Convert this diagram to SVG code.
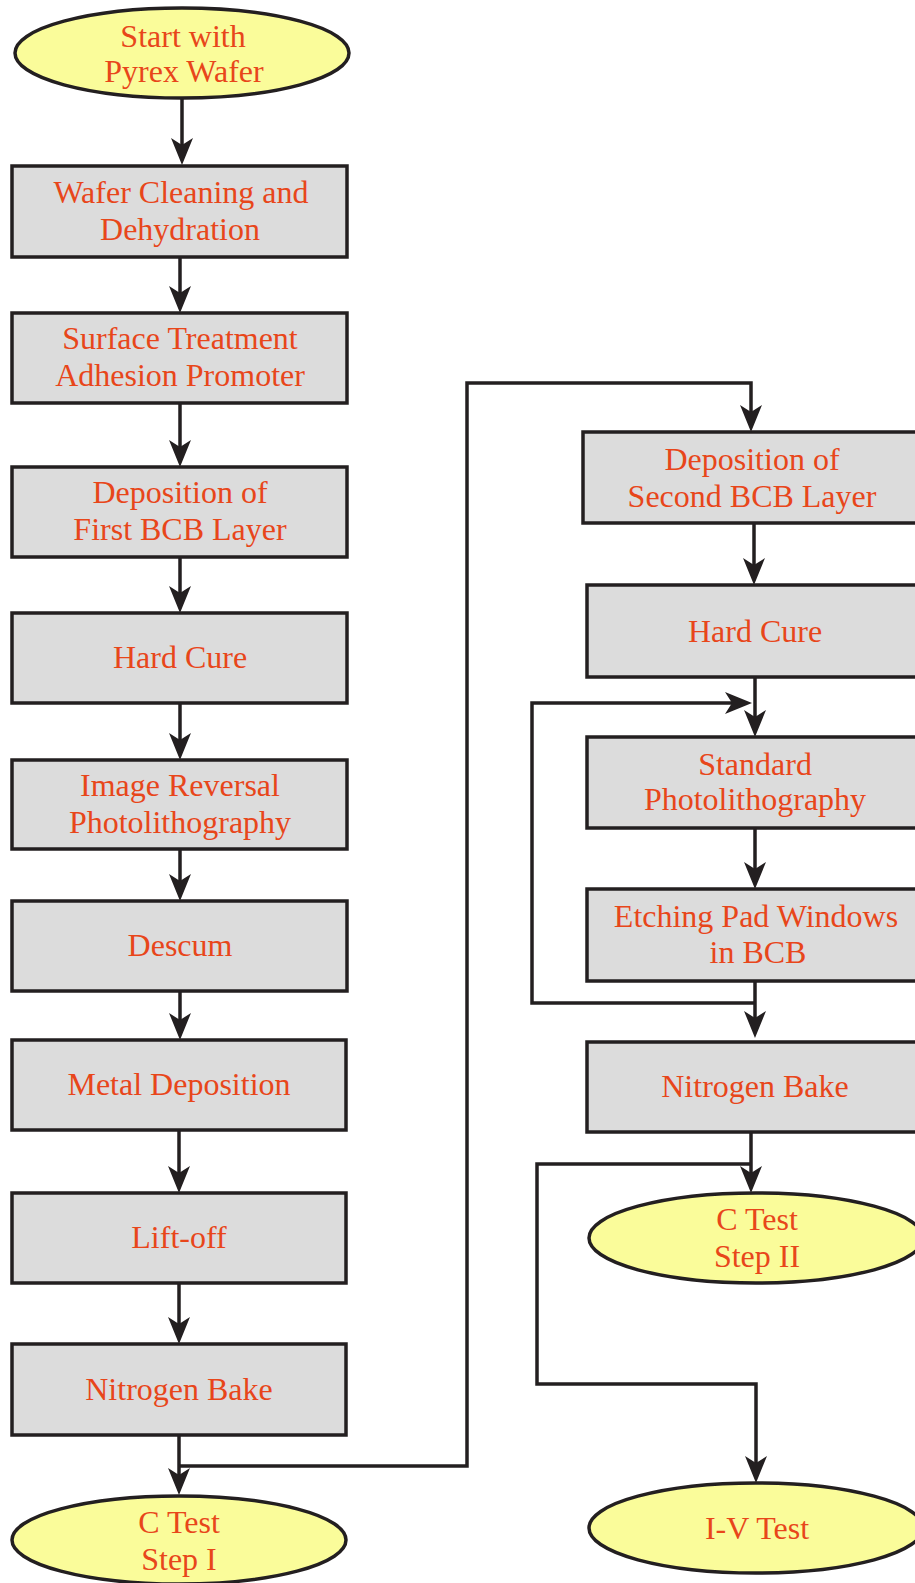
<svg xmlns="http://www.w3.org/2000/svg" width="915" height="1583" viewBox="0 0 915 1583">
<style>
.box{fill:#dcdcdc;stroke:#231f20;stroke-width:3.5}
.term{fill:#fafc9a;stroke:#231f20;stroke-width:3.5}
.t{font-family:"Liberation Serif","Times New Roman",serif;font-size:32px;fill:#e8461a;text-anchor:middle}
.c{fill:none;stroke:#231f20;stroke-width:3.5;stroke-linejoin:miter}
</style>
<defs>
<marker id="ah" markerUnits="userSpaceOnUse" markerWidth="28" markerHeight="22" refX="14" refY="11" orient="auto" viewBox="0 0 28 22">
<path d="M0,0 L27,11 L0,22 L7,11 Z" fill="#231f20"/>
</marker>
</defs>
<rect width="915" height="1583" fill="#ffffff"/>
<g id="connectors">
<path class="c" d="M182,98 V152" marker-end="url(#ah)"/>
<path class="c" d="M180,257 V300" marker-end="url(#ah)"/>
<path class="c" d="M180,403 V454" marker-end="url(#ah)"/>
<path class="c" d="M180,557 V600" marker-end="url(#ah)"/>
<path class="c" d="M180,703 V747" marker-end="url(#ah)"/>
<path class="c" d="M180,849 V888" marker-end="url(#ah)"/>
<path class="c" d="M180,991 V1027" marker-end="url(#ah)"/>
<path class="c" d="M179,1130 V1180" marker-end="url(#ah)"/>
<path class="c" d="M179,1283 V1331" marker-end="url(#ah)"/>
<path class="c" d="M179,1435 V1482" marker-end="url(#ah)"/>
<path class="c" d="M179,1466 H467 V383 H751 V419" marker-end="url(#ah)"/>
<path class="c" d="M754,523 V572" marker-end="url(#ah)"/>
<path class="c" d="M755,677 V724" marker-end="url(#ah)"/>
<path class="c" d="M755,1003 H532 V703 H739" marker-end="url(#ah)"/>
<path class="c" d="M755,828 V876" marker-end="url(#ah)"/>
<path class="c" d="M755,981 V1025" marker-end="url(#ah)"/>
<path class="c" d="M751,1132 V1180" marker-end="url(#ah)"/>
<path class="c" d="M751,1164 H537 V1384 H756 V1470" marker-end="url(#ah)"/>
</g>
<g id="start"><ellipse class="term" cx="182" cy="53" rx="167" ry="45"/><text class="t" x="183" y="47">Start with</text><text class="t" x="184" y="82">Pyrex Wafer</text></g>
<g id="clean"><rect class="box" x="12" y="166" width="335" height="91"/><text class="t" x="181" y="203">Wafer Cleaning and</text><text class="t" x="180" y="240">Dehydration</text></g>
<g id="surface"><rect class="box" x="12" y="313" width="335" height="90"/><text class="t" x="180" y="349">Surface Treatment</text><text class="t" x="180" y="386">Adhesion Promoter</text></g>
<g id="dep1"><rect class="box" x="12" y="467" width="335" height="90"/><text class="t" x="180" y="503">Deposition of</text><text class="t" x="180" y="540">First BCB Layer</text></g>
<g id="cure1"><rect class="box" x="12" y="613" width="335" height="90"/><text class="t" x="180" y="668">Hard Cure</text></g>
<g id="irphoto"><rect class="box" x="12" y="760" width="335" height="89"/><text class="t" x="180" y="796">Image Reversal</text><text class="t" x="180" y="833">Photolithography</text></g>
<g id="descum"><rect class="box" x="12" y="901" width="335" height="90"/><text class="t" x="180" y="956">Descum</text></g>
<g id="metal"><rect class="box" x="12" y="1040" width="334" height="90"/><text class="t" x="179" y="1095">Metal Deposition</text></g>
<g id="liftoff"><rect class="box" x="12" y="1193" width="334" height="90"/><text class="t" x="179" y="1248">Lift-off</text></g>
<g id="n2bake1"><rect class="box" x="12" y="1344" width="334" height="91"/><text class="t" x="179" y="1400">Nitrogen Bake</text></g>
<g id="ctest1"><ellipse class="term" cx="179" cy="1540" rx="167" ry="44"/><text class="t" x="179" y="1533">C Test</text><text class="t" x="179" y="1570">Step I</text></g>
<g id="dep2"><rect class="box" x="583" y="432" width="340" height="91"/><text class="t" x="752" y="470">Deposition of</text><text class="t" x="752" y="507">Second BCB Layer</text></g>
<g id="cure2"><rect class="box" x="587" y="585" width="336" height="92"/><text class="t" x="755" y="642">Hard Cure</text></g>
<g id="stdphoto"><rect class="box" x="587" y="737" width="336" height="91"/><text class="t" x="755" y="775">Standard</text><text class="t" x="755" y="810">Photolithography</text></g>
<g id="etch"><rect class="box" x="587" y="889" width="336" height="92"/><text class="t" x="756" y="927">Etching Pad Windows</text><text class="t" x="758" y="963">in BCB</text></g>
<g id="n2bake2"><rect class="box" x="587" y="1042" width="336" height="90"/><text class="t" x="755" y="1097">Nitrogen Bake</text></g>
<g id="ctest2"><ellipse class="term" cx="756" cy="1238" rx="167" ry="45"/><text class="t" x="757" y="1230">C Test</text><text class="t" x="757" y="1267">Step II</text></g>
<g id="ivtest"><ellipse class="term" cx="756" cy="1528" rx="167" ry="45"/><text class="t" x="757" y="1539">I-V Test</text></g>
</svg>
